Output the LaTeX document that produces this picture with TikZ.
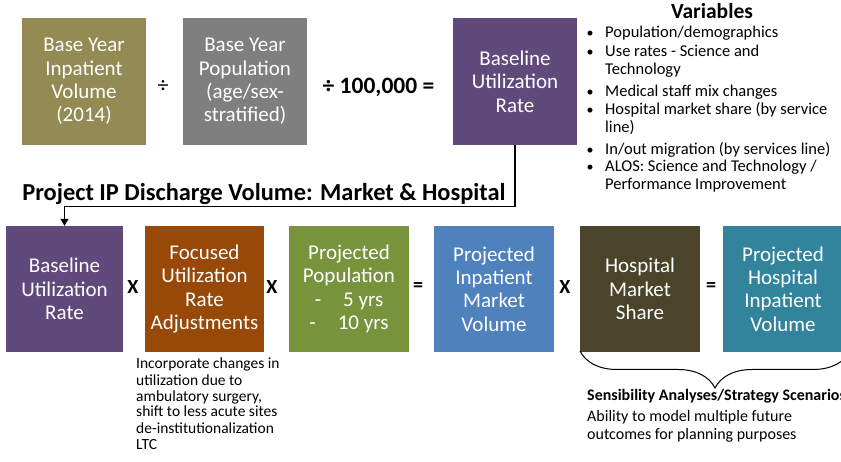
\documentclass[tikz,border=0pt]{standalone}
\usepackage{fontspec}
\setmainfont{Carlito}
\usetikzlibrary{arrows.meta,decorations.pathreplacing}
\definecolor{cOlive}{HTML}{948A54}
\definecolor{cGray}{HTML}{7F7F7F}
\definecolor{cPurple}{HTML}{604A7B}
\definecolor{cOrange}{HTML}{984807}
\definecolor{cGreen}{HTML}{77933C}
\definecolor{cBlue}{HTML}{4F81BD}
\definecolor{cBrown}{HTML}{4A452A}
\definecolor{cTeal}{HTML}{31849B}
\begin{document}
\begin{tikzpicture}[x=1pt,y=-1pt,
  box/.style={draw=none,inner sep=0pt,text=white,align=center,
    minimum height=127,font=\fontsize{21}{23.3}\selectfont},
  lowbox/.style={box,minimum height=126},
  op/.style={inner sep=0pt,font=\bfseries\fontsize{20}{24}\selectfont},
  txt/.style={anchor=base west,inner sep=0pt,font=\fontsize{15.5}{16}\selectfont},
  vtxt/.style={anchor=base west,inner sep=0pt,font=\fontsize{16.5}{19}\selectfont},
  bul/.style={anchor=base,inner sep=0pt,font=\fontsize{14}{19}\selectfont},
  conn/.style={draw=black,line width=1.2pt}]
\clip (0,0) rectangle (841,462);
\fill[white] (0,0) rectangle (841,462);
% top row
\node[box,fill=cOlive,minimum width=124] (b1) at (84,81.5) {Base Year\\Inpatient\\Volume\\(2014)};
\node[box,fill=cGray,minimum width=124] (b2) at (245,81.5) {Base Year\\Population\\(age/sex-\\stratified)};
\node[box,fill=cPurple,minimum width=124] (b3) at (515,81.5) {Baseline\\Utilization\\Rate};
\node[op,font=\fontsize{22}{24}\selectfont] (o1) at (163,87) {÷};
\node[op,anchor=base,font=\bfseries\fontsize{23.5}{26}\selectfont] (o2) at (378.5,94) {÷ 100,000 =};
% variables
\node[anchor=base,inner sep=0pt,font=\bfseries\fontsize{21.5}{24}\selectfont] (vt) at (712,19) {Variables};
\node[bul] (vb1) at (590,37.5) {•};
\node[vtxt] (v1) at (605,37.5) {Population/demographics};
\node[bul] (vb2) at (590,56.5) {•};
\node[vtxt] (v2) at (605,56.5) {Use rates - Science and};
\node[vtxt] (v2b) at (605,75) {Technology};
\node[bul] (vb3) at (590,96.5) {•};
\node[vtxt] (v3) at (605,96.5) {Medical staff mix changes};
\node[bul] (vb4) at (590,114.5) {•};
\node[vtxt] (v4) at (605,114.5) {Hospital market share (by service};
\node[vtxt] (v4b) at (605,133) {line)};
\node[bul] (vb5) at (590,154.5) {•};
\node[vtxt] (v5) at (605,154.5) {In/out migration (by services line)};
\node[bul] (vb6) at (590,171.5) {•};
\node[vtxt] (v6) at (605,171.5) {ALOS: Science and Technology /};
\node[vtxt] (v6b) at (605,190) {Performance Improvement};
% title
\node[anchor=base,inner sep=0pt,font=\bfseries\fontsize{24.4}{27}\selectfont] (title) at (264,200.5) {Project IP Discharge Volume: Market \& Hospital};
% bottom row
\node[lowbox,fill=cPurple,minimum width=117] (c1) at (64.5,289) {Baseline\\Utilization\\Rate};
\node[lowbox,fill=cOrange,minimum width=119] (c2) at (204.5,289) {Focused\\Utilization\\Rate\\Adjustments};
\node[lowbox,fill=cGreen,minimum width=120] (c3) at (349,289) {Projected\\Population\\-\hspace{22pt}5 yrs\\-\hspace{22pt}10 yrs};
\node[lowbox,fill=cBlue,minimum width=120] (c4) at (494,289) {Projected\\Inpatient\\Market\\Volume};
\node[lowbox,fill=cBrown,minimum width=120] (c5) at (640,289) {Hospital\\Market\\Share};
\node[lowbox,fill=cTeal,minimum width=120] (c6) at (783,289) {Projected\\Hospital\\Inpatient\\Volume};
\node[op] (x1) at (133,287) {X};
\node[op] (x2) at (272,287) {X};
\node[op] (e1) at (418,287) {=};
\node[op] (x3) at (565,287) {X};
\node[op] (e2) at (711,287) {=};
% connector
\draw[conn,-{Triangle[length=7pt,width=8pt]}] (b3.south) -- ++(0,61) -| (c1.north);
% notes
\node[txt] (n1) at (136,369) {Incorporate changes in};
\node[txt] (n2) at (136,385) {utilization due to};
\node[txt] (n3) at (136,401) {ambulatory surgery,};
\node[txt] (n4) at (136,417) {shift to less acute sites};
\node[txt] (n5) at (136,433) {de-institutionalization};
\node[txt] (n6) at (136,449) {LTC};
% brace
\draw[line width=1pt,decorate,decoration={brace,mirror,amplitude=37}] (580,351) -- (850,351);
\node[txt,font=\bfseries\fontsize{16}{18}\selectfont] (s1) at (587,400) {Sensibility Analyses/Strategy Scenarios};
\node[txt,font=\fontsize{16}{18}\selectfont] (s2) at (587,421.5) {Ability to model multiple future};
\node[txt,font=\fontsize{16}{18}\selectfont] (s3) at (587,439) {outcomes for planning purposes};
\end{tikzpicture}
\end{document}
